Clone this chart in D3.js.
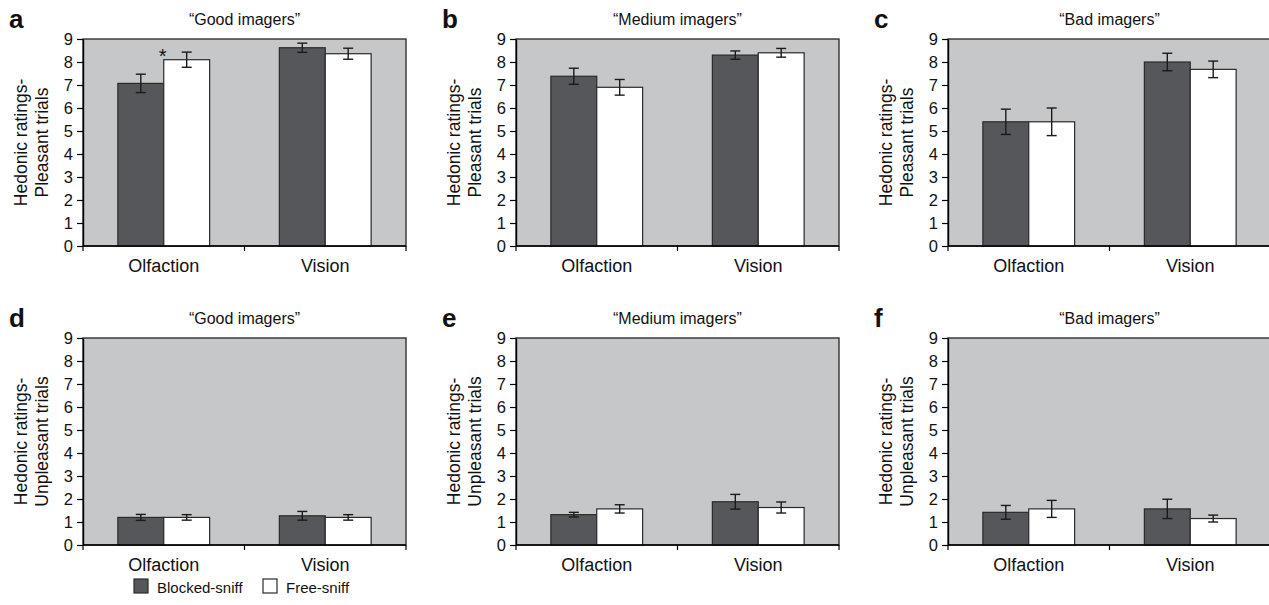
<!DOCTYPE html>
<html>
<head>
<meta http-equiv='Content-Type' content='text/html;charset=utf-8'/>
<title>Hedonic ratings</title>
<script src='https://d3js.org/d3.v7.min.js'></script>
<style>
  body { margin: 0; background: #fff; }
  text { font-family: 'Liberation Sans', Arial, sans-serif; fill: #111; }
</style>
</head>
<body>
<script>
'use strict';
// chart values, one entry per group: [Olfaction, Vision]
const groups = ['\u201cGood imagers\u201d', '\u201cMedium imagers\u201d', '\u201cBad imagers\u201d'];
const categories = ['Olfaction', 'Vision'];
const series = ['Blocked-sniff', 'Free-sniff'];
const yTicks = [0, 1, 2, 3, 4, 5, 6, 7, 8, 9];
const panelLetters = ['a', 'b', 'c', 'd', 'e', 'f'];
const rowTitles = [['Hedonic ratings-', 'Pleasant trials'], ['Hedonic ratings-', 'Unpleasant trials']];

const pleasantBlocked    = [[7.07, 8.62], [7.38, 8.30], [5.40, 8.00]];
const pleasantBlockedErr = [[0.40, 0.20], [0.35, 0.18], [0.55, 0.38]];
const pleasantFree       = [[8.10, 8.36], [6.90, 8.40], [5.40, 7.68]];
const pleasantFreeErr    = [[0.33, 0.24], [0.34, 0.19], [0.60, 0.36]];

const unpleasantBlocked    = [[1.20, 1.27], [1.32, 1.88], [1.42, 1.57]];
const unpleasantBlockedErr = [[0.13, 0.19], [0.10, 0.32], [0.30, 0.42]];
const unpleasantFree       = [[1.20, 1.20], [1.57, 1.63], [1.57, 1.15]];
const unpleasantFreeErr    = [[0.12, 0.12], [0.18, 0.24], [0.37, 0.15]];

// significance marker: row 0, group 0, Olfaction, Free-sniff
const stars = [{row: 0, group: 0, cat: 'Olfaction', ser: 'Free-sniff'}];

const rows = [
  {blocked: pleasantBlocked, blockedErr: pleasantBlockedErr, free: pleasantFree, freeErr: pleasantFreeErr},
  {blocked: unpleasantBlocked, blockedErr: unpleasantBlockedErr, free: unpleasantFree, freeErr: unpleasantFreeErr}
];

const W = 1269, H = 605;
const plotW = 323, plotH = 207;
const colX = [83, 516, 948];
const rowY = [39, 338];

const colors = {bg: '#c6c7c9', 'Blocked-sniff': '#55575a', 'Free-sniff': '#ffffff'};

const svg = d3.select('body').append('svg')
  .attr('width', W)
  .attr('height', H);

svg.append('rect').attr('width', W).attr('height', H).attr('fill', '#fff');

const x0 = d3.scaleBand().domain(categories).range([0, plotW]).paddingInner(0).paddingOuter(0);
const x1 = d3.scaleBand().domain(series).range([0, x0.bandwidth()]).paddingInner(0).paddingOuter(0.76);
const y = d3.scaleLinear().domain([0, 9]).range([plotH, 0]);

rows.forEach(function(row, r) {
  groups.forEach(function(gName, gi) {
    const g = svg.append('g').attr('transform', 'translate(' + colX[gi] + ',' + rowY[r] + ')');

    g.append('rect')
      .attr('width', plotW)
      .attr('height', plotH)
      .attr('fill', colors.bg)
      .attr('stroke', '#333')
      .attr('stroke-width', 1.4);

    const data = [];
    categories.forEach(function(c, ci) {
      data.push({cat: c, ser: 'Blocked-sniff', v: row.blocked[gi][ci], e: row.blockedErr[gi][ci]});
      data.push({cat: c, ser: 'Free-sniff', v: row.free[gi][ci], e: row.freeErr[gi][ci]});
    });

    g.selectAll('.bar').data(data).enter().append('rect')
      .attr('class', 'bar')
      .attr('x', d => x0(d.cat) + x1(d.ser))
      .attr('y', d => y(d.v))
      .attr('width', x1.bandwidth())
      .attr('height', d => plotH - y(d.v))
      .attr('fill', d => colors[d.ser])
      .attr('stroke', '#2a2a2a')
      .attr('stroke-width', 1.2);

    // error bars
    const eb = g.selectAll('.err').data(data).enter().append('g').attr('class', 'err')
      .attr('stroke', '#1a1a1a').attr('stroke-width', 1.4);
    const cx = d => x0(d.cat) + x1(d.ser) + x1.bandwidth() / 2;
    eb.append('line').attr('x1', cx).attr('x2', cx)
      .attr('y1', d => y(d.v + d.e)).attr('y2', d => y(d.v - d.e));
    eb.append('line').attr('x1', d => cx(d) - 5).attr('x2', d => cx(d) + 5)
      .attr('y1', d => y(d.v + d.e)).attr('y2', d => y(d.v + d.e));
    eb.append('line').attr('x1', d => cx(d) - 5).attr('x2', d => cx(d) + 5)
      .attr('y1', d => y(d.v - d.e)).attr('y2', d => y(d.v - d.e));

    // y axis
    const yAxis = g.append('g').call(d3.axisLeft(y).tickValues(yTicks).tickSize(6).tickSizeOuter(0).tickPadding(4));
    yAxis.select('.domain').attr('stroke', '#000').attr('stroke-width', 1.4);
    yAxis.selectAll('line').attr('stroke', '#000').attr('stroke-width', 1.2);
    yAxis.selectAll('text').style('font-size', '16.5px').attr('fill', '#111')
      .style('font-family', "'Liberation Sans', Arial, sans-serif");

    // x axis: line with ticks at band edges, labels centred
    const xa = g.append('g').attr('transform', 'translate(0,' + plotH + ')');
    xa.append('line').attr('x1', 0).attr('x2', plotW).attr('stroke', '#000').attr('stroke-width', 1.4);
    const edges = categories.map(c => x0(c)).concat([plotW]);
    xa.selectAll('.xt').data(edges).enter().append('line')
      .attr('x1', d => d).attr('x2', d => d).attr('y1', 0).attr('y2', 5)
      .attr('stroke', '#000').attr('stroke-width', 1.2);
    xa.selectAll('.xl').data(categories).enter().append('text')
      .attr('x', d => x0(d) + x0.bandwidth() / 2)
      .attr('y', 26)
      .attr('text-anchor', 'middle')
      .style('font-size', '18px')
      .text(d => d);

    // y title
    const yt = g.append('text')
      .attr('transform', 'translate(-56,' + (plotH / 2) + ') rotate(-90)')
      .attr('text-anchor', 'middle')
      .style('font-size', '17.5px');
    yt.append('tspan').attr('x', 0).attr('dy', 0).text(rowTitles[r][0]);
    yt.append('tspan').attr('x', 0).attr('dy', 21).text(rowTitles[r][1]);

    // group title
    g.append('text')
      .attr('x', plotW / 2)
      .attr('y', -14)
      .attr('text-anchor', 'middle')
      .style('font-size', '16px')
      .text(gName);

    // panel letter
    g.append('text')
      .attr('x', -74)
      .attr('y', -11)
      .style('font-size', '26px')
      .style('font-weight', 'bold')
      .text(panelLetters[r * 3 + gi]);

    stars.filter(s => s.row === r && s.group === gi).forEach(function(s) {
      const d = data.find(dd => dd.cat === s.cat && dd.ser === s.ser);
      g.append('text')
        .attr('x', x0(s.cat) + x1(s.ser) - 1)
        .attr('y', y(d.v + d.e) + 11)
        .attr('text-anchor', 'middle')
        .style('font-size', '20px')
        .text('*');
    });
  });
});

// legend
const legend = svg.append('g').attr('transform', 'translate(134,579)');
const li = legend.selectAll('.li').data(series).enter().append('g')
  .attr('transform', (d, i) => 'translate(' + (i * 129) + ',0)');
li.append('rect').attr('width', 14).attr('height', 14)
  .attr('fill', d => colors[d]).attr('stroke', '#2a2a2a').attr('stroke-width', 1.2);
li.append('text').attr('x', 23).attr('y', 14).style('font-size', '15px').text(d => d);
</script>
</body>
</html>
